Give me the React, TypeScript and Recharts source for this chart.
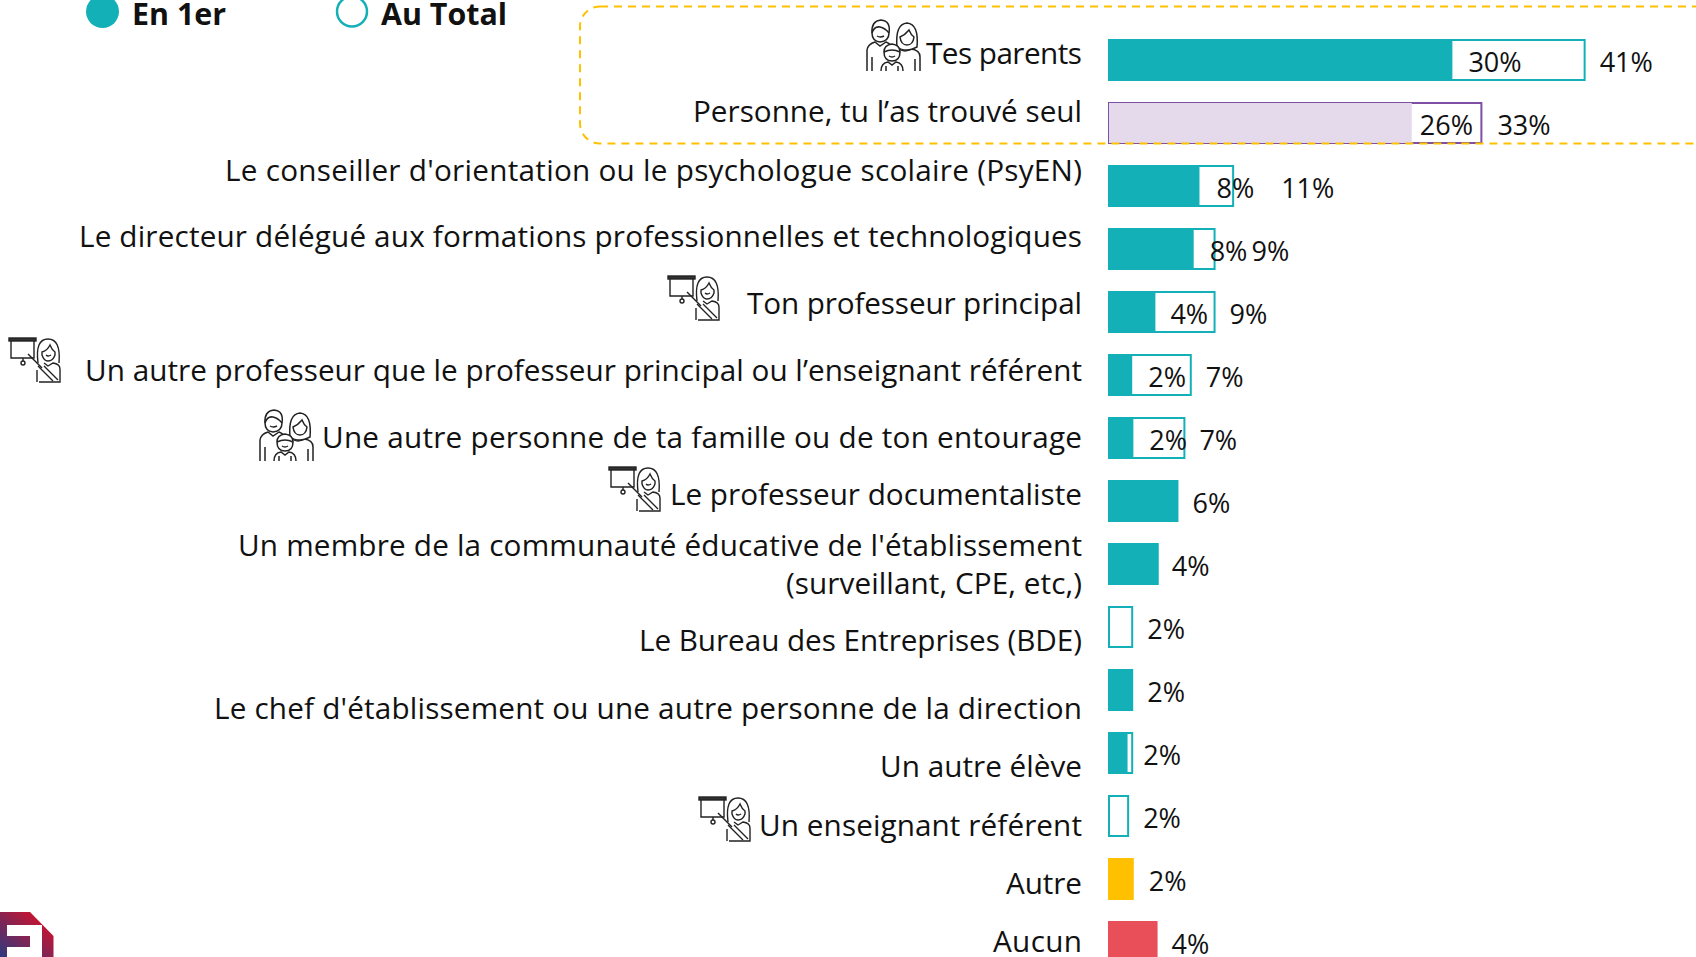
import { BarChart, Bar, XAxis, YAxis, Cell, LabelList } from 'recharts'

const categories = [
  'Tes parents',
  'Personne, tu l’as trouvé seul',
  "Le conseiller d'orientation ou le psychologue scolaire (PsyEN)",
  'Le directeur délégué aux formations professionnelles et technologiques',
  'Ton professeur principal',
  'Un autre professeur que le professeur principal ou l’enseignant référent',
  'Une autre personne de ta famille ou de ton entourage',
  'Le professeur documentaliste',
  "Un membre de la communauté éducative de l'établissement\n(surveillant, CPE, etc,)",
  'Le Bureau des Entreprises (BDE)',
  "Le chef d'établissement ou une autre personne de la direction",
  'Un autre élève',
  'Un enseignant référent',
  'Autre',
  'Aucun',
]
// bar lengths (they don't quite agree with the printed labels)
const firstValues = [29.6, 26.1, 7.8, 7.3, 4, 2, 2.1, 5.9, 4.2, null, 2, 1.6, null, null, null]
const totalValues = [41, 32.1, 10.7, 9.1, 9.1, 7.05, 6.5, 5.9, 4.2, 2, 2, 2, 1.65, 2.05, 4.1]
const firstLabels = ['30%', '26%', '8%', '8%', '4%', '2%', '2%', null, null, null, null, null, null, null, null]
const totalLabels = ['41%', '33%', '11%', '9%', '9%', '7%', '7%', '6%', '4%', '2%', '2%', '2%', '2%', '2%', '4%']

const TEAL = '#13B0B7'
const PURPLE = '#7F4FA3'
const LILAC = '#E5D9EC'
const YELLOW = '#FFC000'
const RED = '#E94F58'
const FONT = '"Open Sans", sans-serif'

const rows = categories.map((category, i) => ({
  category,
  first: firstValues[i],
  total: totalValues[i],
  firstLabel: firstLabels[i],
  totalLabel: totalLabels[i],
}))

// the slide's text boxes aren't aligned with their bars
const tickShift = [-7, -12, -16, -13, -9, -5, -1, -7, 0, 13, 18, 13, 8.5, 4, -1]
// Open Sans runs wider or narrower than the slide's font, so each line is fitted to its width
const tickWidths = [[156], [389], [857], [1003], [335], [997], [760], [412], [844, 296], [443], [868], [202], [323], [76], [89]]
const firstLabelGap = [16, 8, 17, 16, 15, 16, 16, 16, 16, 16, 16, 16, 16, 16, 16]
const totalLabelGap = [15, 16, 48, 37, 15, 15, 15, 15, 14, 15, 15, 11, 15, 16, 15]
const icons: Record<number, { kind: 'family' | 'teacher'; x: number; y: number }> = {
  0: { kind: 'family', x: 865, y: 19 },
  4: { kind: 'teacher', x: 668, y: 275 },
  5: { kind: 'teacher', x: 9, y: 337 },
  6: { kind: 'family', x: 258, y: 409 },
  7: { kind: 'teacher', x: 609, y: 466 },
  12: { kind: 'teacher', x: 699, y: 796 },
}

function FamilyIcon({ x, y }: { x: number; y: number }) {
  return (
    <g transform={`translate(${x},${y})`} fill="#fff" stroke="#222" strokeWidth={1.5}>
      <path d="M2 52 V31 Q3 25 10 23 L15 27 L21 23 Q26 25 27 28 M7 52 V38" />
      <path d="M7 14 Q6 2 16 1 Q26 2 24 14 Q24 22 15 23 Q7 22 7 14 Z" />
      <path d="M7 14 Q9 7 15 8 Q20 9 24 14" fill="none" />
      <path d="M12 17 Q15 19 19 17" fill="none" />
      <path d="M34 30 Q40 34 46 30 Q55 31 55 38 V52 M50 40 V52" />
      <path d="M32 28 Q30 5 42 4 Q54 5 52 28 Q46 31 42 31 Q36 31 32 28 Z" />
      <path d="M35 18 Q40 16 44 11 Q46 16 49 18 Q48 26 42 26 Q36 26 35 18 Z" />
      <path d="M16 52 Q16 44 23 43 L27 46 L31 43 Q38 44 38 52 M21 52 V47 M33 52 V47" />
      <path d="M19 33 Q19 26 27 25 Q35 26 35 33 Q35 42 27 42 Q19 42 19 33 Z" />
      <path d="M19 33 Q27 29 35 33" fill="none" />
      <path d="M24 37 Q27 39 30 37" fill="none" />
    </g>
  )
}

function TeacherIcon({ x, y }: { x: number; y: number }) {
  return (
    <g transform={`translate(${x},${y})`} fill="none" stroke="#222" strokeWidth={1.4}>
      <rect x={0} y={1} width={27} height={3} fill="#333" />
      <path d="M2 4 V21 H25 V4" />
      <path d="M14 21 V24" />
      <circle cx={14} cy={26} r={2} />
      <path d="M29 26 Q26 2 39 2 Q52 2 50 26" />
      <path d="M33 15 Q38 14 41 8 Q43 13 46 15 V18 Q44 24 39 24 Q35 24 33 18 Z" />
      <path d="M37 18 Q39 20 42 18" />
      <path d="M28 45 V33 M35 26 L39 29 L44 26 Q51 27 51 32 V45 H30" />
      <path d="M19 17 L33 31" />
      <path d="M29 29 L44 44 M35 29 L49 43" />
    </g>
  )
}

function CategoryTick(props: any) {
  const { x, y, payload, index } = props
  const i = payload.index ?? index
  const lines = String(payload.value).split('\n')
  const shift = tickShift[i] ?? 0
  const icon = icons[i]
  const top = y + shift - ((lines.length - 1) * 38) / 2
  return (
    <g>
      {icon && icon.kind === 'family' && <FamilyIcon x={icon.x} y={icon.y} />}
      {icon && icon.kind === 'teacher' && <TeacherIcon x={icon.x} y={icon.y} />}
      {lines.map((line, n) => (
        <text
          key={n}
          x={x - 27}
          y={top + n * 38}
          textAnchor="end"
          dominantBaseline="central"
          fontFamily={FONT}
          fontSize={29.7}
          fill="#111"
          textLength={tickWidths[i]?.[n]}
          lengthAdjust="spacing"
        >
          {line}
        </text>
      ))}
    </g>
  )
}

function percentLabel(gaps: number[]) {
  return (props: any) => {
    const { x, y, width, height, value, index } = props
    if (value == null || x == null) return null
    return (
      <text
        x={x + width + gaps[index]}
        y={y + height / 2 + 1}
        dominantBaseline="central"
        fontFamily={FONT}
        fontSize={27}
        fill="#111"
      >
        {value}
      </text>
    )
  }
}

function totalFill(i: number) {
  if (i === 13) return YELLOW
  if (i === 14) return RED
  return '#fff'
}

function totalStroke(i: number) {
  if (i === 1) return PURPLE
  if (i === 13) return YELLOW
  if (i === 14) return RED
  return TEAL
}

function Overlay() {
  return (
    <svg width={1696} height={957} style={{ position: 'absolute', left: 0, top: 0, pointerEvents: 'none' }}>
      <defs>
        <linearGradient id="logo" x1="1" y1="0" x2="0" y2="1">
          <stop offset="0.15" stopColor="#D0112B" />
          <stop offset="1" stopColor="#2C3A80" />
        </linearGradient>
      </defs>
      <rect x={580} y={6.5} width={1200} height={137} rx={20} fill="none" stroke={YELLOW} strokeWidth={2} strokeDasharray="8 6" />

      <circle cx={102.5} cy={11.5} r={16.5} fill={TEAL} />
      <text x={132} y={13} dominantBaseline="central" fontFamily={FONT} fontWeight={700} fontSize={30.4} fill="#111">En 1er</text>
      <circle cx={352} cy={11.5} r={15} fill="#fff" stroke={TEAL} strokeWidth={2.5} />
      <text x={381} y={13} dominantBaseline="central" fontFamily={FONT} fontWeight={700} fontSize={30.4} fill="#111">Au Total</text>

      <path d="M0 912 H30 L53.5 936 V957 H0 Z" fill="url(#logo)" />
      <path d="M7 925 H42 V957 H7 V947 H30 V936 H7 Z" fill="#fff" />
    </svg>
  )
}

export default function App() {
  return (
    <div style={{ position: 'absolute', left: 0, top: 0, width: 1696, height: 957, overflow: 'hidden', background: '#fff' }}>
      <BarChart
        width={1696}
        height={1000}
        data={rows}
        layout="vertical"
        barSize={40}
        barGap={-40}
        margin={{ top: 28, right: 0, bottom: 27, left: 0 }}
      >
        <XAxis type="number" hide domain={[0, 50.6]} />
        <YAxis
          type="category"
          dataKey="category"
          width={1109}
          interval={0}
          axisLine={false}
          tickLine={false}
          tickSize={0}
          tickMargin={0}
          tick={<CategoryTick />}
        />
        <Bar dataKey="total" isAnimationActive={false} strokeWidth={2}>
          {rows.map((_, i) => (
            <Cell key={i} fill={totalFill(i)} stroke={totalStroke(i)} />
          ))}
          <LabelList dataKey="totalLabel" content={percentLabel(totalLabelGap)} />
        </Bar>
        <Bar dataKey="first" isAnimationActive={false}>
          {rows.map((_, i) => (
            <Cell key={i} fill={i === 1 ? LILAC : TEAL} />
          ))}
          <LabelList dataKey="firstLabel" content={percentLabel(firstLabelGap)} />
        </Bar>
      </BarChart>
      <Overlay />
    </div>
  )
}
